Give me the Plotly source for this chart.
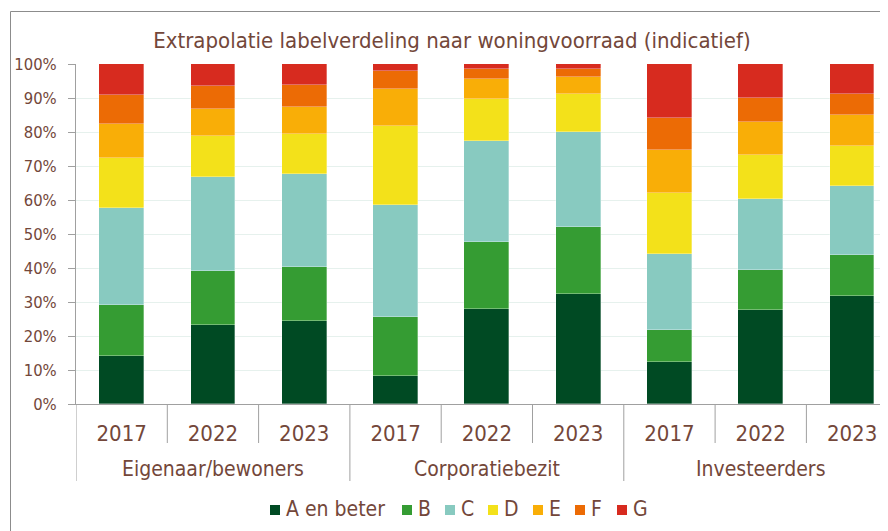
import plotly.graph_objects as go

# ---- data ----
groups = ["Eigenaar/bewoners", "Corporatiebezit", "Investeerders"]
years = ["2017", "2022", "2023"]
categories = [f"{g} {y}" for g in groups for y in years]

labels = ["A en beter", "B", "C", "D", "E", "F", "G"]
A = [14.1, 23.2, 24.3, 8.3, 27.9, 32.4, 12.5, 27.6, 31.8]
B = [14.9, 16.0, 16.0, 17.2, 19.8, 19.8, 9.3, 11.8, 12.1]
C = [28.7, 27.6, 27.3, 33.0, 29.7, 27.9, 22.4, 20.8, 20.2]
D = [14.8, 12.0, 11.9, 23.3, 12.3, 11.0, 17.9, 12.9, 11.8]
E = [9.8, 8.1, 8.0, 10.8, 6.0, 5.2, 12.7, 9.9, 9.1]
F = [8.5, 6.6, 6.3, 5.4, 2.8, 2.2, 9.3, 7.0, 6.1]
G = [9.2, 6.5, 6.2, 2.0, 1.5, 1.5, 15.9, 10.0, 8.9]
series = [A, B, C, D, E, F, G]
colors = ["#004a23", "#359c33", "#88cac0", "#f3e11a", "#f9ae07", "#ec6b05", "#d72b1f"]

y_ticks = list(range(0, 101, 10))
y_ticklabels = [f"{v}%" for v in y_ticks]

TXT = "#73473a"
FONT = "DejaVu Sans Condensed, DejaVu Sans, sans-serif"
AX = "#a0a0a0"

# page body has an 8px margin: figure is drawn 8px right/down of the window origin
OFF = 8
W, H = 888 - OFF, 531 - OFF
PLOT_L, PLOT_R, PLOT_T, PLOT_B = 76, 888, 64, 404   # window pixel coords
ML, MR, MT, MB = PLOT_L - OFF, 888 - PLOT_R, PLOT_T - OFF, 531 - PLOT_B
PW, PH = PLOT_R - PLOT_L, PLOT_B - PLOT_T

def px2xp(px):
    return (px - PLOT_L) / PW

def py2yp(py):
    return (PLOT_B - py) / PH

xpos = list(range(len(categories)))
cat_w = 91.3

fig = go.Figure()
for name, vals, col in zip(labels, series, colors):
    fig.add_trace(go.Bar(
        x=xpos, y=vals, name=name, width=0.49,
        marker=dict(color=col, line=dict(color="rgba(255,255,255,0.45)", width=0.7)),
        hovertext=categories, showlegend=False,
    ))

shapes = []
# category dividers below the axis
n = len(categories)
for k in range(n + 1):
    b = k - 0.5
    long = (k % len(years) == 0)
    shapes.append(dict(type="line", xref="x", yref="paper", x0=b, x1=b,
                       y0=0, y1=py2yp(481 if long else 443),
                       line=dict(color=AX, width=1)))
# chart border (left & top)
shapes.append(dict(type="line", xref="paper", yref="paper",
                   x0=px2xp(10.5), x1=px2xp(10.5), y0=py2yp(11.5), y1=py2yp(560),
                   line=dict(color="#8c8c8c", width=1)))
shapes.append(dict(type="line", xref="paper", yref="paper",
                   x0=px2xp(10.5), x1=px2xp(900), y0=py2yp(11.5), y1=py2yp(11.5),
                   line=dict(color="#8c8c8c", width=1)))

annotations = []
for gi, g in enumerate(groups):
    annotations.append(dict(text=g, xref="x", yref="paper",
                            x=gi * len(years) + (len(years) - 1) / 2, y=py2yp(469),
                            showarrow=False, xanchor="center", yanchor="middle",
                            font=dict(family=FONT, size=21, color=TXT)))

# legend (squares + labels)
legend_sq_x = [270, 402, 445, 488, 533, 575, 617]
leg_y = 509
for lx, name, col in zip(legend_sq_x, labels, colors):
    shapes.append(dict(type="rect", xref="paper", yref="paper",
                       x0=px2xp(lx), x1=px2xp(lx + 10),
                       y0=py2yp(leg_y + 6), y1=py2yp(leg_y - 4),
                       line=dict(width=0), fillcolor=col))
    annotations.append(dict(text=name, xref="paper", yref="paper",
                            x=px2xp(lx + 14), y=py2yp(leg_y),
                            showarrow=False, xanchor="left", yanchor="middle",
                            font=dict(family=FONT, size=21, color=TXT)))

fig.update_layout(
    width=W, height=H,
    margin=dict(l=ML, r=MR, t=MT, b=MB, pad=0),
    paper_bgcolor="white", plot_bgcolor="white",
    barmode="stack",
    bargap=0,
    showlegend=False,
    title=dict(text="Extrapolatie labelverdeling naar woningvoorraad (indicatief)",
               x=(452 - OFF) / W, xref="container", xanchor="center",
               y=1 - (40 - OFF) / H, yref="container", yanchor="middle",
               font=dict(family=FONT, size=22, color=TXT)),
    xaxis=dict(range=[-0.5, -0.5 + PW / cat_w], tickvals=xpos,
               ticktext=[y for g in groups for y in years],
               showgrid=False, zeroline=False, showline=True, linecolor=AX,
               ticks="", ticklabelstandoff=10,
               tickfont=dict(family=FONT, size=22, color=TXT)),
    yaxis=dict(range=[0, 100], tickvals=y_ticks, ticktext=y_ticklabels,
               showgrid=True, gridcolor="#e6f1ed", zeroline=False,
               showline=True, linecolor=AX, ticks="outside", ticklen=7,
               tickcolor=AX, ticklabelstandoff=8,
               tickfont=dict(family=FONT, size=16.5, color=TXT)),
    shapes=shapes,
    annotations=annotations,
)

fig.write_html("out.html")
